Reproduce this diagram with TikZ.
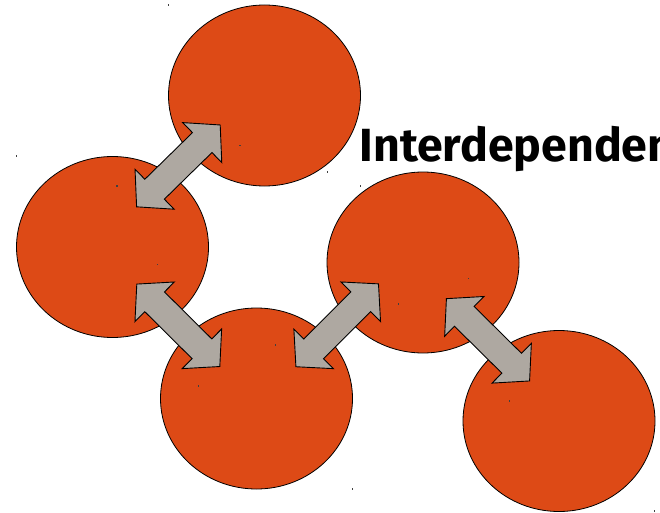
\documentclass[tikz,border=0pt]{standalone}
\usepackage{fontspec}
\newfontfamily\labelfont{Fira Sans}
\usetikzlibrary{shapes.geometric,shapes.arrows}
\definecolor{blob}{RGB}{221,74,22}
\definecolor{linkgray}{RGB}{174,168,161}
\tikzset{
  blobnode/.style={ellipse, draw=black, line width=0.8pt, fill=blob,
    minimum width=192pt, minimum height=181pt, inner sep=0pt},
  linkarrow/.style={double arrow, draw=black, line width=0.9pt, fill=linkgray,
    minimum height=117pt, inner xsep=0pt, inner ysep=13.5pt,
    double arrow head extend=14pt, double arrow tip angle=96},
  speck/.style={fill=black!75, inner sep=0pt, minimum size=1.2pt, draw=none}
}
\begin{document}
\begin{tikzpicture}[x=1pt,y=-1pt]
  \useasboundingbox (0,0) rectangle (660,513);
  % the five bodies
  \node[blobnode] (e1) at (264.5,95.5) {};
  \node[blobnode] (e2) at (112.5,247) {};
  \node[blobnode] (e3) at (256.5,398.5) {};
  \node[blobnode] (e4) at (423,262.5) {};
  \node[blobnode] (e5) at (559,421) {};
  % two-way links between neighbouring bodies
  \node[linkarrow, rotate=44.4]  (l12) at (178.4,165.9) {};
  \node[linkarrow, rotate=-44.8] (l23) at (178.3,325.3) {};
  \node[linkarrow, rotate=45.1]  (l34) at (337.2,325.3) {};
  \node[linkarrow, rotate=-44.7] (l45) at (488,339.8) {};
  % title, running past the right edge
  \node[anchor=base west, inner sep=0pt, font=\labelfont\bfseries\fontsize{46.5}{50}\selectfont]
    (title) at (359.5,161.7) {Interdependence};
  % small specks
  \foreach \px/\py [count=\i] in {168.4/5, 16.8/156, 240/145.7, 327.4/172, 360.7/186,
      117/186, 157.8/264.3, 468.4/278.3, 398.2/304, 275.7/345, 198.7/386,
      509.3/401, 352.7/489, 654.5/511}
    \node[speck] (s\i) at (\px,\py) {};
\end{tikzpicture}
\end{document}
